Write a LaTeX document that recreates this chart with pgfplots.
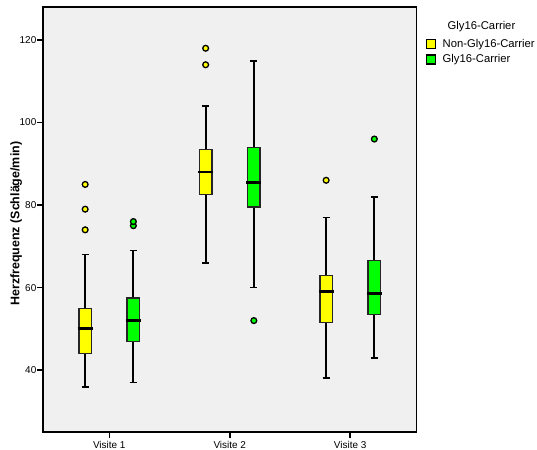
\documentclass[border=0pt]{standalone}
\usepackage{fontspec}
\setmainfont{Liberation Sans}
\usepackage{pgfplots}
\pgfplotsset{compat=1.18}
\usepgfplotslibrary{statistics}

\definecolor{panel}{HTML}{F0F0F0}
\definecolor{nongly}{HTML}{FFFF00}
\definecolor{gly}{HTML}{00FF00}

% one box of the heart-rate chart; the plotted coordinates are its outliers
\pgfplotsset{
  hrbox/.style={
    forget plot, mark=*, mark size=2.9bp,
    mark options={fill=#1, draw=black, line width=1.3bp},
    boxplot/draw direction=y,
    boxplot/box extend=0.104,
    boxplot/whisker extend=0.06,
    boxplot/every box/.style={fill=#1, draw=black!85, line width=1.4bp},
    boxplot/every whisker/.style={draw=black, line width=1.8bp},
    boxplot/every median/.style={draw=black, line width=2.8bp, shorten <=-1.2bp, shorten >=-1.2bp},
  },
}

\begin{document}
\begin{tikzpicture}
\useasboundingbox (-43bp,-18bp) rectangle (494bp,432bp);
\begin{axis}[
  scale only axis,
  width=373.5bp, height=425bp,
  xmin=0.45, xmax=3.55, ymin=25, ymax=128,
  clip=false,
  boxplot/draw direction=y,
  axis background/.style={fill=panel},
  axis line style={line width=1.3bp, black},
  xtick={1,2,3}, xticklabels={Visite 1, Visite 2, Visite 3},
  ytick={40,60,80,100,120},
  tick pos=left, tick align=outside, major tick length=5.5bp,
  tick style={line width=1.5bp, black},
  tick label style={font=\fontsize{10}{11}\selectfont},
  yticklabel style={inner sep=1bp},
  /pgf/number format/assume math mode=true,
  ylabel={Herzfrequenz (Schläge/min)},
  ylabel style={font=\bfseries\fontsize{12.5}{14}\selectfont,
    at={(axis description cs:-0.072,0.49)}, anchor=center},
  legend style={at={(axis description cs:1.025,0.93)}, anchor=north west,
    draw=none, fill=none, inner sep=0pt, row sep=2bp, column sep=4.5bp,
    font=\fontsize{11.3}{12}\selectfont, cells={anchor=west}},
  legend image code/.code={\draw[#1] (0bp,-4.5bp) rectangle (9bp,4.5bp);},
]

% Visite 1
\addplot[hrbox=nongly, boxplot prepared={draw position=0.8,
  lower whisker=36, lower quartile=44, median=50,
  upper quartile=55, upper whisker=68}] coordinates {(0,85) (0,79) (0,74)};
\addplot[hrbox=gly, boxplot prepared={draw position=1.2,
  lower whisker=37, lower quartile=47, median=52,
  upper quartile=57.5, upper whisker=69}] coordinates {(0,75) (0,76)};

% Visite 2
\addplot[hrbox=nongly, boxplot prepared={draw position=1.8,
  lower whisker=66, lower quartile=82.5, median=88,
  upper quartile=93.5, upper whisker=104}] coordinates {(0,114) (0,118)};
\addplot[hrbox=gly, boxplot prepared={draw position=2.2,
  lower whisker=60, lower quartile=79.5, median=85.5,
  upper quartile=94, upper whisker=115}] coordinates {(0,52)};

% Visite 3
\addplot[hrbox=nongly, boxplot prepared={draw position=2.8,
  lower whisker=38, lower quartile=51.5, median=59,
  upper quartile=63, upper whisker=77}] coordinates {(0,86)};
\addplot[hrbox=gly, boxplot prepared={draw position=3.2,
  lower whisker=43, lower quartile=53.5, median=58.5,
  upper quartile=66.5, upper whisker=82}] coordinates {(0,96)};

\addlegendimage{fill=nongly, draw=black, line width=1.2bp}
\addlegendentry{Non-Gly16-Carrier}
\addlegendimage{fill=gly, draw=black, line width=1.2bp}
\addlegendentry{Gly16-Carrier}

\node[font=\fontsize{11.3}{12}\selectfont] at (axis description cs:1.174,0.955) {Gly16-Carrier};
\end{axis}
\end{tikzpicture}
\end{document}
